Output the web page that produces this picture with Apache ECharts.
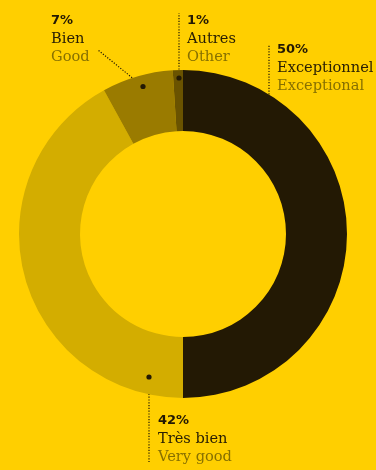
<!DOCTYPE html>
<html><head><meta charset="utf-8">
<script src="https://cdn.jsdelivr.net/npm/echarts@6/dist/echarts.min.js"></script>
<style>html,body{margin:0;padding:0;background:#FFCF00;}#c{width:376px;height:470px;}</style>
</head><body><div id="c"></div>
<script>
const categoriesFr = ['Exceptionnel', 'Très bien', 'Bien', 'Autres'];
const categoriesEn = ['Exceptional', 'Very good', 'Good', 'Other'];
const values = [50, 42, 7, 1];
const percentLabels = ['50%', '42%', '7%', '1%'];
const colors = ['#231904', '#D3AD00', '#9A7B00', '#6A5300'];

// label layout (positions) kept separate from data
const labelPos = [
  {x: 277, y: 41, line: [[269, 94.5], [269, 45]]},
  {x: 158, y: 412, line: [[149, 377], [149, 462]]},
  {x: 51, y: 12, line: [[143, 86.5], [98, 50]]},
  {x: 187, y: 12, line: [[179, 78], [179, 13]]}
];

const chart = echarts.init(document.getElementById('c'), null, {renderer: 'canvas'});
const data = values.map((v, i) => ({
  value: v,
  name: categoriesFr[i],
  itemStyle: {color: colors[i]}
}));

chart.setOption({
  backgroundColor: '#FFCF00',
  animation: false,
  series: [{
    type: 'pie',
    center: [183, 234],
    radius: [103, 164],
    startAngle: 90,
    clockwise: true,
    silent: true,
    avoidLabelOverlap: false,
    data: data,
    label: {
      show: true,
      position: 'outside',
      align: 'left',
      overflow: 'none',
      width: 200,
      formatter: p => '{p|' + percentLabels[p.dataIndex] + '}\n{fr|' + categoriesFr[p.dataIndex] + '}\n{en|' + categoriesEn[p.dataIndex] + '}',
      rich: {
        p: {fontFamily: 'DejaVu Sans', fontWeight: 'bold', fontSize: 13, color: '#231904', lineHeight: 18},
        fr: {fontFamily: 'DejaVu Serif', fontSize: 14.6, color: '#2A2004', lineHeight: 18},
        en: {fontFamily: 'DejaVu Serif', fontSize: 14.6, color: '#877000', lineHeight: 18}
      }
    },
    labelLine: {
      show: true,
      lineStyle: {color: '#231904', width: 1.2, type: [1.2, 1.6]}
    },
    labelLayout: function (params) {
      const lp = labelPos[params.dataIndex];
      return {x: lp.x, y: lp.y, align: 'left', verticalAlign: 'top', labelLinePoints: lp.line};
    }
  }],
  graphic: labelPos.slice(1).map(lp => ({
    type: 'circle',
    shape: {cx: lp.line[0][0], cy: lp.line[0][1], r: 2.6},
    style: {fill: '#231904'},
    z: 100
  }))
});
</script></body></html>
